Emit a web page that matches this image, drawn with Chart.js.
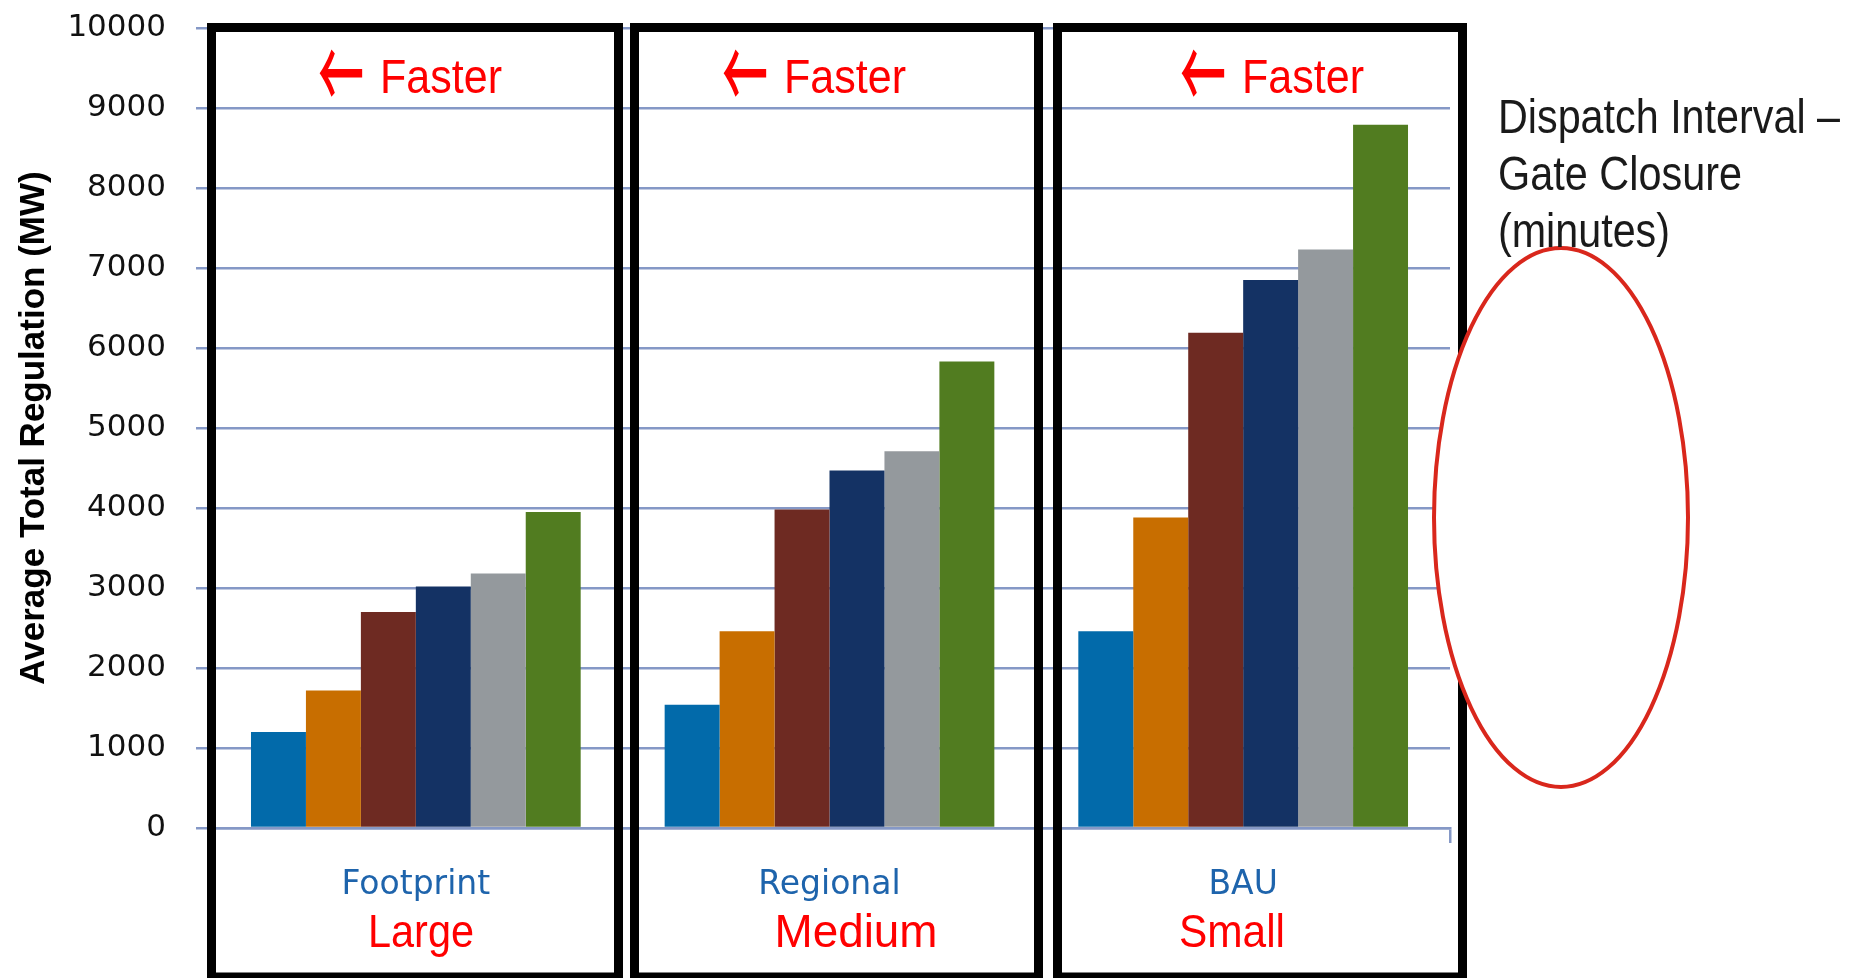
<!DOCTYPE html>
<html>
<head>
<meta charset="utf-8">
<title>Average Total Regulation</title>
<style>
  html, body { margin: 0; padding: 0; background: #ffffff; }
  canvas { display: block; }
</style>
<script src="https://cdn.jsdelivr.net/npm/chart.js@4.4.1/dist/chart.umd.min.js"></script>
</head>
<body>
<canvas id="chart" width="1850" height="978"></canvas>
<script>
// ---- data ----
const categories = ['Footprint', 'Regional', 'BAU'];
const footprintSizes = ['Large', 'Medium', 'Small'];
const seriesNames = ['Interval 1', 'Interval 2', 'Interval 3', 'Interval 4', 'Interval 5', 'Interval 6'];
const interval1 = [1200, 1540, 2460];
const interval2 = [1720, 2460, 3880];
const interval3 = [2700, 3980, 6190];
const interval4 = [3020, 4470, 6850];
const interval5 = [3180, 4710, 7230];
const interval6 = [3950, 5830, 8790];
const seriesValues = [interval1, interval2, interval3, interval4, interval5, interval6];
const yMin = 0;
const yMax = 10000;
const yStep = 1000;
const yTitle = 'Average Total Regulation (MW)';
const legendTitleLines = ['Dispatch Interval \u2013', 'Gate Closure', '(minutes)'];
const arrowGlyph = '\u2190';
const directionWord = 'Faster';

// ---- styles ----
const palette = ['#026aaa', '#c86e00', '#6e2a22', '#143264', '#94999d', '#517c20'];
const GRID = '#8598c6';

// draw text squeezed or stretched horizontally to a given width
function fitText(ctx, text, x, y, font, color, width, align, baseline) {
  ctx.save();
  ctx.font = font;
  ctx.fillStyle = color;
  ctx.textBaseline = baseline || 'alphabetic';
  const w = ctx.measureText(text).width;
  const sx = width ? width / w : 1;
  ctx.translate(x, y);
  ctx.scale(sx, 1);
  ctx.textAlign = align || 'center';
  ctx.fillText(text, 0, 0);
  ctx.restore();
}

// panel frames, "Faster" notes, footprint size labels, legend heading and ring
const overlay = {
  id: 'panelOverlay',
  afterDraw(chart) {
    const ctx = chart.ctx;
    const frames = [[207, 623], [630, 1043], [1053, 1467]];
    const noteLefts = [318, 722, 1180];
    const sizeCenters = [421, 856, 1232];
    const sizeWidths = [106, 163, 106];

    ctx.save();
    ctx.strokeStyle = '#000000';
    ctx.lineWidth = 9;
    frames.forEach(([l, r]) => {
      ctx.strokeRect(l + 4.5, 27.5, r - l - 9, 977 - 27.5);
    });
    ctx.restore();

    noteLefts.forEach(x0 => {
      fitText(ctx, arrowGlyph, x0, 73, '500 100px "Noto Sans CJK JP"', '#ff0000', 46, 'left', 'middle');
      fitText(ctx, directionWord, x0 + 62, 93, '48px "Liberation Sans"', '#ff0000', 122, 'left');
    });

    footprintSizes.forEach((t, i) => {
      fitText(ctx, t, sizeCenters[i], 947, '47px "Liberation Sans"', '#ff0000', sizeWidths[i], 'center');
    });

    // ring over the legend area
    ctx.save();
    ctx.beginPath();
    ctx.ellipse(1561, 517.5, 127, 269.5, 0, 0, Math.PI * 2);
    ctx.fillStyle = '#ffffff';
    ctx.fill();
    ctx.lineWidth = 4;
    ctx.strokeStyle = '#d9271c';
    ctx.stroke();
    ctx.restore();

    const baselines = [133, 190, 247];
    const lineWidths = [342, 244, 172];
    legendTitleLines.forEach((t, i) => {
      fitText(ctx, t, 1498, baselines[i], '49px "Liberation Sans"', '#1a1a1a', lineWidths[i], 'left');
    });
  }
};

new Chart(document.getElementById('chart'), {
  type: 'bar',
  data: {
    labels: categories,
    datasets: seriesNames.map((name, i) => ({
      label: name,
      data: seriesValues[i],
      backgroundColor: palette[i],
      borderWidth: 0,
      categoryPercentage: 0.797,
      barPercentage: 1.0
    }))
  },
  options: {
    responsive: false,
    animation: false,
    devicePixelRatio: 1,
    layout: { padding: { top: 28, right: 400, bottom: 0, left: 0 } },
    plugins: {
      legend: { display: false },
      tooltip: { enabled: false },
      title: { display: false }
    },
    scales: {
      x: {
        grid: {
          display: true,
          drawOnChartArea: false,
          drawTicks: true,
          tickLength: 15,
          lineWidth: 2.5,
          color: c => (c.type === 'scale' ? GRID : 'rgba(0,0,0,0)')
        },
        border: { display: true, color: GRID, width: 2.5 },
        ticks: {
          color: '#1e64ac',
          font: { family: 'DejaVu Sans', size: 33 },
          padding: 23,
          maxRotation: 0,
          autoSkip: false
        },
        afterFit(scale) { scale.height = 150; }
      },
      y: {
        min: yMin,
        max: yMax,
        ticks: {
          stepSize: yStep,
          color: '#111111',
          font: { family: 'DejaVu Sans', size: 31 },
          padding: 30,
          callback: v => String(v)
        },
        grid: { color: GRID, lineWidth: 2.5, tickLength: 13 },
        border: { display: false },
        title: {
          display: true,
          text: yTitle,
          color: '#000000',
          font: { family: 'Liberation Sans', size: 35, weight: 'bold' },
          padding: { top: 13, bottom: 0 }
        },
        afterFit(scale) {
          scale.width = 209;
          scale.paddingTop = 0;
          scale.paddingBottom = 0;
        }
      }
    }
  },
  plugins: [overlay]
});
</script>
</body>
</html>
